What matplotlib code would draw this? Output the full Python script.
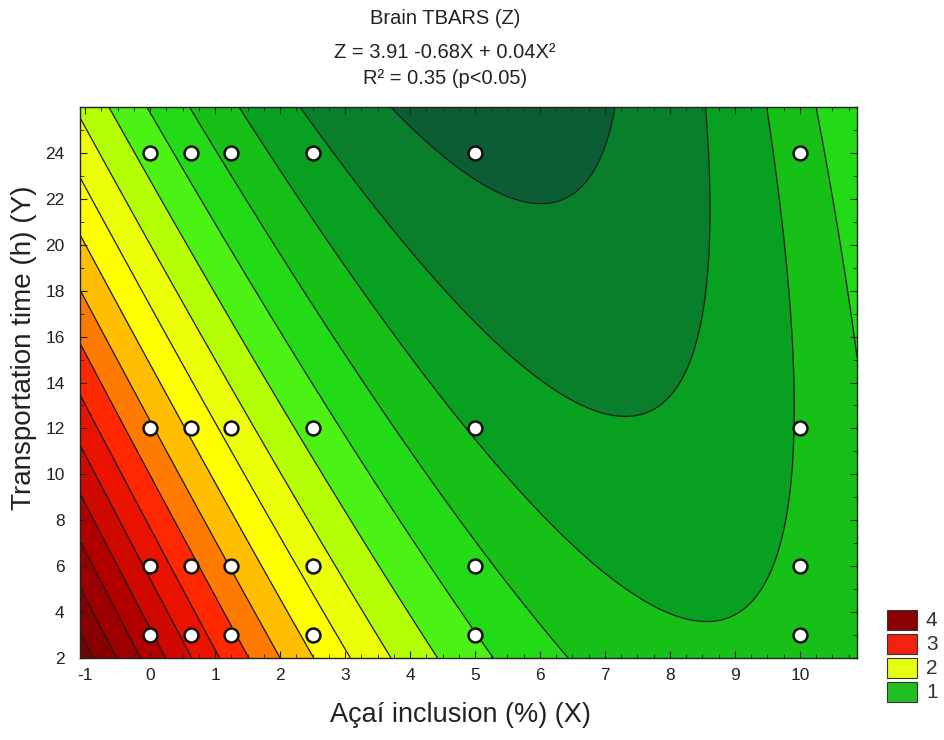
import numpy as np
import matplotlib
matplotlib.use("Agg")
import matplotlib.pyplot as plt
from matplotlib.patches import Rectangle

plt.rcParams['font.family'] = ['Liberation Sans', 'DejaVu Sans']
plt.rcParams['axes.unicode_minus'] = False

# Design points (Açaí inclusion %, transportation time h)
acai_levels = [0, 0.625, 1.25, 2.5, 5, 10]
time_levels = [3, 6, 12, 24]

# Response-surface coefficients:
# Z = a + b*X + c*Y + d*X^2 + e*X*Y + f*Y^2
coef_a, coef_b, coef_c = 4.145, -0.671, -0.1228
coef_d, coef_e, coef_f = 0.037, 0.01036, 0.00078

# Contour levels and band colours
contour_levels = [0.25, 0.5, 0.75, 1.0, 1.25, 1.5, 1.75, 2.0, 2.25, 2.5,
                  2.75, 3.0, 3.25, 3.5, 3.75, 4.0, 4.25, 4.5, 4.75]
band_colors = ['#0b5e34', '#0a7f2b', '#07a020', '#16c016', '#22da16',
               '#4cf214', '#b4ff06', '#eaff08', '#ffff00', '#ffbe00',
               '#ff7a00', '#ff2800', '#ea1200', '#cf0800', '#b20000',
               '#9c0000', '#880000', '#780000']

legend_labels = ['4', '3', '2', '1']
legend_colors = ['#8b0000', '#f22210', '#e6ff10', '#20c020']

title_lines = ['Brain TBARS (Z)', 'Z = 3.91 -0.68X + 0.04X²', 'R² = 0.35 (p<0.05)']
x_label = 'Açaí inclusion (%) (X)'
y_label = 'Transportation time (h) (Y)'
x_ticks = list(range(-1, 11))
y_ticks = list(range(2, 25, 2))
x_range = (-1.08, 10.88)
y_range = (2, 26)

fig = plt.figure(figsize=(9.44, 7.40), dpi=100)
ax = fig.add_axes([80/944, 1-658/740, (857-80)/944, (658-107)/740])

gx = np.linspace(x_range[0], x_range[1], 400)
gy = np.linspace(y_range[0], y_range[1], 400)
GX, GY = np.meshgrid(gx, gy)
GZ = (coef_a + coef_b*GX + coef_c*GY + coef_d*GX**2 + coef_e*GX*GY + coef_f*GY**2)

ax.contourf(GX, GY, GZ, levels=contour_levels, colors=band_colors)
ax.contour(GX, GY, GZ, levels=contour_levels, colors='#1a1a1a', linewidths=0.9)

px = [x for y in time_levels for x in acai_levels]
py = [y for y in time_levels for x in acai_levels]
ax.plot(px, py, 'o', ms=10, mfc='white', mec='#111111', mew=1.8, zorder=5)

ax.set_xlim(*x_range)
ax.set_ylim(*y_range)
ax.set_xticks(x_ticks)
ax.set_yticks(y_ticks)
ax.set_xticks(np.arange(-1, 10.9, 0.25), minor=True)
ax.set_yticks(np.arange(2, 26.1, 1), minor=True)
ax.tick_params(which='both', direction='in', top=True, right=True, color='#222222')
ax.tick_params(which='major', length=5, labelsize=12.5, labelcolor='#222222')
ax.tick_params(axis='x', which='major', pad=7)
ax.tick_params(axis='y', which='major', pad=11)
ax.tick_params(which='minor', length=3)
for s in ax.spines.values():
    s.set_color('#222222')
    s.set_linewidth(1.0)

ax.set_xlabel(x_label, fontsize=19.5, color='#222222')
ax.set_ylabel(y_label, fontsize=20, color='#222222')
ax.xaxis.set_label_coords(0.49, -0.08)
ax.yaxis.set_label_coords(-0.055, 0.563)

fig.text(445/944, 1-18/740, title_lines[0], ha='center', va='center', fontsize=14.5, color='#222222')
fig.text(445/944, 1-52/740, title_lines[1], ha='center', va='center', fontsize=14.5, color='#222222')
fig.text(445/944, 1-78/740, title_lines[2], ha='center', va='center', fontsize=14.5, color='#222222')

# legend boxes
box_tops = [610, 634, 658, 682]
for lab, col, top in zip(legend_labels, legend_colors, box_tops):
    fig.patches.append(Rectangle((887/944, 1-(top+20)/740), 30/944, 20/740,
                                 transform=fig.transFigure, facecolor=col,
                                 edgecolor='#333333', linewidth=0.8))
    fig.text(926/944, 1-(top+10)/740, lab, ha='left', va='center', fontsize=15, color='#333333')

fig.savefig('out.png', dpi=100)
